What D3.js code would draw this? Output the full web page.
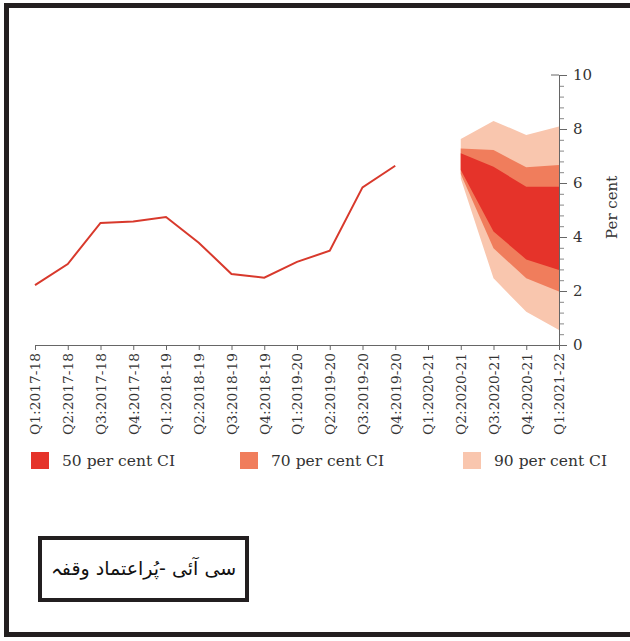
<!DOCTYPE html>
<html>
<head>
<meta charset="utf-8">
<script src="https://cdn.jsdelivr.net/npm/d3@7"></script>
<style>
  body { margin: 0; background: #fff; }
  svg { display: block; }
</style>
</head>
<body>
<div class="vis-chart"></div>
<script>
// quarters on the x axis
const quarters = [
  'Q1:2017-18', 'Q2:2017-18', 'Q3:2017-18', 'Q4:2017-18',
  'Q1:2018-19', 'Q2:2018-19', 'Q3:2018-19', 'Q4:2018-19',
  'Q1:2019-20', 'Q2:2019-20', 'Q3:2019-20', 'Q4:2019-20',
  'Q1:2020-21', 'Q2:2020-21', 'Q3:2020-21', 'Q4:2020-21', 'Q1:2021-22'
];

// actual values, Q1:2017-18 .. Q4:2019-20
const actualQuarters = quarters.slice(0, 12);
const actualValues = [2.22, 3.0, 4.52, 4.57, 4.74, 3.79, 2.63, 2.49, 3.08, 3.49, 5.84, 6.64];

// projection fan, Q2:2020-21 .. Q1:2021-22
const fanQuarters = ['Q2:2020-21', 'Q3:2020-21', 'Q4:2020-21', 'Q1:2021-22'];
const ci90Upper = [7.63, 8.3, 7.78, 8.09];
const ci90Lower = [6.17, 2.47, 1.23, 0.56];
const ci70Upper = [7.28, 7.22, 6.58, 6.67];
const ci70Lower = [6.33, 3.58, 2.47, 1.98];
const ci50Upper = [7.1, 6.6, 5.86, 5.86];
const ci50Lower = [6.48, 4.2, 3.17, 2.78];

const legendLabels = ['50 per cent CI', '70 per cent CI', '90 per cent CI'];
const yTicks = [0, 2, 4, 6, 8, 10];
const yMinorTicks = d3.range(0, 10.01, 0.4);

const colors = { ci50: '#e5332a', ci70: '#f07d5c', ci90: '#f9c6ae', line: '#d8392c' };
const serif = '"DejaVu Serif", serif';

const svg = d3.select('.vis-chart').append('svg')
  .attr('width', 630)
  .attr('height', 641);

// outer frame (right side runs off the page)
svg.append('rect')
  .attr('x', 6.5).attr('y', 5.5)
  .attr('width', 700).attr('height', 629)
  .attr('fill', 'none')
  .attr('stroke', '#231f20')
  .attr('stroke-width', 5);

const xScale = d3.scalePoint().domain(quarters).range([35, 559]);
const yScale = d3.scaleLinear().domain([0, 10]).range([345, 75]);

/* fan bands */
const bands = [
  { up: ci90Upper, lo: ci90Lower, color: colors.ci90 },
  { up: ci70Upper, lo: ci70Lower, color: colors.ci70 },
  { up: ci50Upper, lo: ci50Lower, color: colors.ci50 }
];
bands.forEach(b => {
  const rows = fanQuarters.map((q, i) => ({ q: q, up: b.up[i], lo: b.lo[i] }));
  svg.append('path')
    .datum(rows)
    .attr('fill', b.color)
    .attr('d', d3.area()
      .x(d => xScale(d.q))
      .y0(d => yScale(d.lo))
      .y1(d => yScale(d.up)));
});

/* actual line */
svg.append('path')
  .datum(actualQuarters.map((q, i) => ({ q: q, v: actualValues[i] })))
  .attr('fill', 'none')
  .attr('stroke', colors.line)
  .attr('stroke-width', 2)
  .attr('d', d3.line().x(d => xScale(d.q)).y(d => yScale(d.v)));

/* x axis */
const xAxis = d3.axisBottom(xScale).tickSize(5).tickSizeOuter(0).tickPadding(4);
const gx = svg.append('g')
  .attr('transform', 'translate(0,' + yScale(0) + ')')
  .call(xAxis);
gx.select('.domain').attr('stroke', '#666');
gx.selectAll('.tick line').attr('stroke', '#666');
gx.selectAll('.tick text')
  .attr('transform', 'rotate(-90)')
  .attr('text-anchor', 'end')
  .attr('x', -8)
  .attr('y', 0)
  .attr('dy', '0.35em')
  .style('font-family', serif)
  .style('font-size', '13.8px')
  .attr('fill', '#333');

/* y axis on the right */
const yMinor = d3.axisRight(yScale).tickValues(yMinorTicks).tickSize(5).tickFormat('');
svg.append('g')
  .attr('transform', 'translate(559,0)')
  .call(yMinor)
  .call(g => g.select('.domain').remove())
  .selectAll('.tick line').attr('stroke', '#888');

const yAxis = d3.axisRight(yScale).tickValues(yTicks).tickSize(8).tickSizeOuter(0).tickPadding(6);
const gy = svg.append('g')
  .attr('transform', 'translate(559,0)')
  .call(yAxis);
gy.select('.domain').attr('stroke', '#666');
gy.selectAll('.tick line').attr('stroke', '#666');
gy.selectAll('.tick text')
  .style('font-family', serif)
  .style('font-size', '15px')
  .attr('fill', '#333');

// cap at top of y axis
svg.append('line')
  .attr('x1', 551).attr('x2', 559)
  .attr('y1', yScale(10)).attr('y2', yScale(10))
  .attr('stroke', '#666');

svg.append('text')
  .attr('transform', 'translate(617,' + yScale(5.1) + ')rotate(-90)')
  .attr('text-anchor', 'middle')
  .style('font-family', serif)
  .style('font-size', '15px')
  .attr('fill', '#333')
  .text('Per cent');

/* legend */
const legendX = [31, 240, 463];
const legendColors = [colors.ci50, colors.ci70, colors.ci90];
const legend = svg.append('g');
legendLabels.forEach((l, i) => {
  legend.append('rect')
    .attr('x', legendX[i]).attr('y', 452)
    .attr('width', 18).attr('height', 17)
    .attr('fill', legendColors[i]);
  legend.append('text')
    .attr('x', legendX[i] + 31).attr('y', 466)
    .style('font-family', serif)
    .style('font-size', '15.5px')
    .attr('fill', '#333')
    .text(l);
});

/* urdu caption box */
svg.append('rect')
  .attr('x', 40).attr('y', 538)
  .attr('width', 207).attr('height', 62)
  .attr('fill', 'none')
  .attr('stroke', '#231f20')
  .attr('stroke-width', 4);
svg.append('text')
  .attr('x', 143.5).attr('y', 575)
  .attr('text-anchor', 'middle')
  .style('font-family', '"DejaVu Sans", sans-serif')
  .style('font-size', '19px')
  .attr('fill', '#111')
  .text('سی آئی -پُراعتماد وقفہ');
</script>
</body>
</html>
